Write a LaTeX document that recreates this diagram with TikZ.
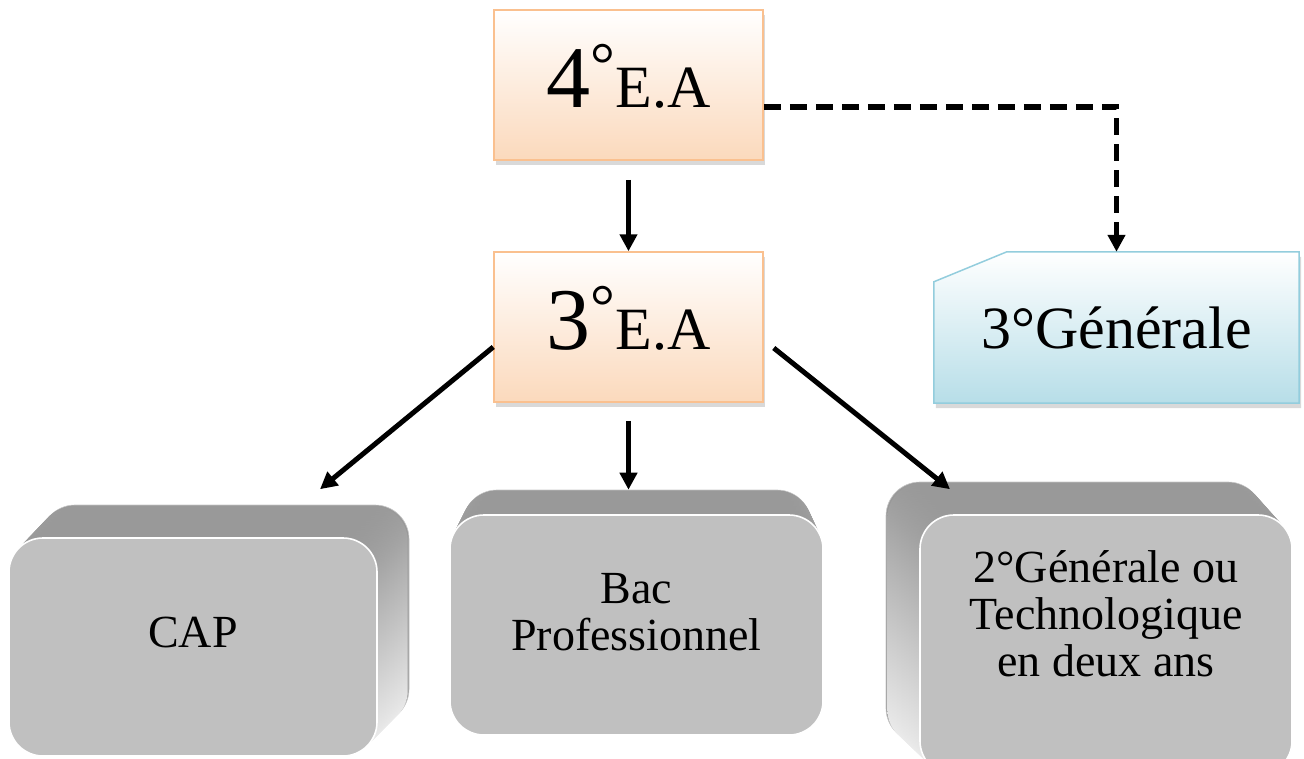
\documentclass[tikz,border=0pt]{standalone}
\usepackage{fontspec}
\setmainfont{Liberation Serif}
\usetikzlibrary{arrows.meta,shadows,backgrounds,calc}
\definecolor{peach}{HTML}{FBD9BC}
\definecolor{peachline}{HTML}{FAC08F}
\definecolor{iceblue}{HTML}{B7DEE8}
\definecolor{iceline}{HTML}{93CDDD}
\definecolor{facegray}{HTML}{C0C0C0}
\definecolor{topgray}{HTML}{999999}
\newcommand{\eatext}[1]{{\fontsize{88}{90}\selectfont #1}{\fontsize{62}{66}\selectfont\raisebox{22pt}{°}}{\fontsize{60}{64}\selectfont E.A}}
\tikzset{
	eabox/.style={rectangle, draw=peachline, line width=1.5pt, top color=white, bottom color=peach,
		minimum width=269pt, minimum height=150pt, inner sep=0pt, text depth=19pt,
		drop shadow={shadow xshift=2pt, shadow yshift=-5pt, opacity=.3}},
	genshape/.style={draw=iceline, line width=1.5pt, top color=white, bottom color=iceblue,
		drop shadow={shadow xshift=2pt, shadow yshift=-5pt, opacity=.3}},
	back/.style={rectangle, rounded corners=34pt, fill=topgray, draw=gray!45, line width=.6pt, inner sep=0pt},
	layer/.style={rounded corners=34pt, top color=topgray, bottom color=gray!12},
	face/.style={rectangle, rounded corners=34pt, fill=facegray, draw=white, line width=1.6pt, inner sep=0pt},
	boxtxt/.style={align=center, font=\fontsize{46}{47}\selectfont},
	arr/.style={line width=5pt, -{Triangle[width=17pt,length=17pt]}},
	dasharr/.style={arr, line width=5.5pt, dash pattern=on 17pt off 9pt}
}
\begin{document}
\begin{tikzpicture}[x=1pt,y=-1pt]
	\useasboundingbox (0,0) rectangle (1304,758);
	% orange boxes
	\node[eabox] (ea4) at (628.5,85) {\eatext{4}};
	\node[eabox] (ea3) at (628.5,327) {\eatext{3}};
	% blue box with cut corner
	\node[minimum width=365pt, minimum height=151pt, inner sep=0pt, font=\fontsize{60}{64}\selectfont] (gen) at (1116.5,327.5) {3°Générale};
	\begin{scope}[on background layer]
		\path[genshape] ([yshift=-30pt]gen.north west) -- ([xshift=73pt]gen.north west) -- (gen.north east)
			-- (gen.south east) -- (gen.south west) -- cycle;
	\end{scope}
	% grey blocks
	\node[back, minimum width=368pt, minimum height=218pt] (cap-back) at (225,614) {};
	\foreach \t in {0.05,0.1,...,0.96}
		\path[layer] ($(cap-back.north west)!\t!(9,538)$) rectangle ($(cap-back.south east)!\t!(377,756)$);
	\node[face, minimum width=368pt, minimum height=218pt] (cap) at (193,647) {};
	\node[boxtxt] (cap-t) at ([yshift=15pt]cap.center) {CAP};

	\node[back, minimum width=348pt, minimum height=220pt] (bac-back) at (637,600) {};
	\foreach \t in {0.05,0.1,...,0.96}
		\path[layer] ($(bac-back.north west)!\t!(450,515)$) rectangle ($(bac-back.south east)!\t!(823,735)$);
	\node[face, minimum width=373pt, minimum height=220pt] (bac) at (636.5,625) {};
	\node[boxtxt] (bac-t) at ([yshift=13pt]bac.center) {Bac\\Professionnel};

	\node[back, minimum width=376pt, minimum height=260pt] (two-back) at (1074,612) {};
	\foreach \t in {0.05,0.1,...,0.96}
		\path[layer] ($(two-back.north west)!\t!(920,515)$) rectangle ($(two-back.south east)!\t!(1292,775)$);
	\node[face, minimum width=372pt, minimum height=260pt] (two) at (1106,645) {};
	\node[boxtxt] (two-t) at ([yshift=31pt]two.center) {2°Générale ou\\Technologique\\en deux ans};
	% arrows
	\draw[arr, shorten <=19pt] (ea4.south) -- (ea3.north);
	\draw[dasharr] ([yshift=-22pt]ea4.east) -| (gen.north);
	\draw[arr, shorten <=18pt] (ea3.south) -- (ea3.south |- bac-back.north);
	\draw[arr] ([yshift=-20pt]ea3.west) -- ([xshift=127pt,yshift=48pt]cap.north);
	\draw[arr] ([xshift=10pt,yshift=-21pt]ea3.east) -- ([xshift=-156pt,yshift=25pt]two.north);
\end{tikzpicture}
\end{document}
